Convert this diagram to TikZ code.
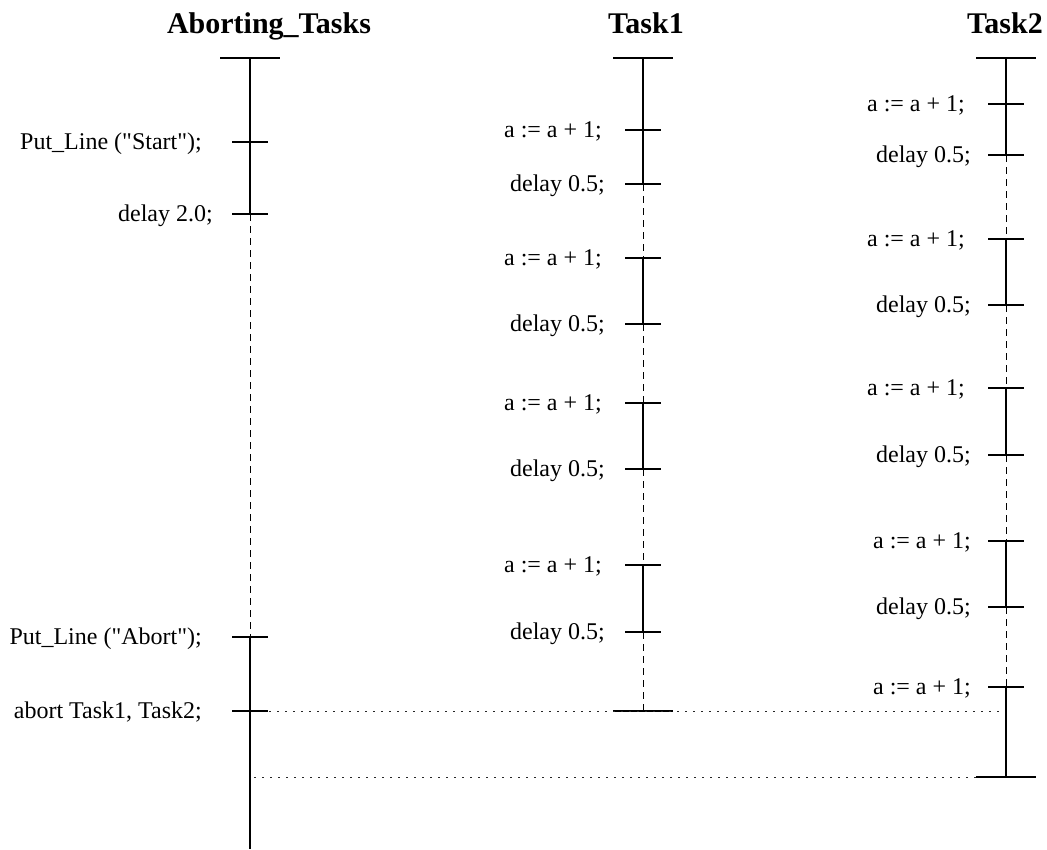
\documentclass[tikz,border=0pt]{standalone}
\usepackage{fontspec}
\setmainfont{Liberation Serif}
\begin{document}
\begin{tikzpicture}[x=1pt,y=-1pt,
  life/.style={line width=1.6pt},
  idle/.style={line width=0.8pt, dash pattern=on 7pt off 5pt},
  tickmark/.style={line width=1.1pt},
  endbar/.style={line width=1.3pt},
  msg/.style={line width=1pt, dash pattern=on 1.6pt off 6.4pt, black!85},
  lbl/.style={anchor=base east, font=\fontsize{24}{28}\selectfont, inner sep=0pt, yshift=-7pt},
  title/.style={anchor=base, font=\fontsize{30}{34}\selectfont\bfseries, inner sep=0pt}]
\useasboundingbox (0,0) rectangle (1047,849);

% task titles
\node[title] (tA) at (269,33) {Aborting\_Tasks};
\node[title] (t1) at (646,33) {Task1};
\node[title] (t2) at (1005,33) {Task2};

% ---- Aborting_Tasks lifeline ----
\coordinate (a0) at (250,58);
\coordinate (a1) at (250,142);
\coordinate (a2) at (250,214);
\coordinate (a3) at (250,637);
\coordinate (a4) at (250,711);
\coordinate (a5) at (250,777);
\coordinate (aend) at (250,849);
\draw[endbar] ([xshift=-30pt]a0) -- ([xshift=30pt]a0);
\draw[life] (a0) -- (a2);
\draw[idle] (a2) -- (a3);
\draw[life] (a3) -- (aend);
\foreach \c in {a1,a2,a3,a4}
  \draw[tickmark] ([xshift=-18pt]\c) -- ([xshift=18pt]\c);
\node[lbl] (la1) at (202,142) {Put\_Line (\textquotedbl Start\textquotedbl);};
\node[lbl] (la2) at (213,214) {delay 2.0;};
\node[lbl] (la3) at (202,637) {Put\_Line (\textquotedbl Abort\textquotedbl);};
\node[lbl] (la4) at (202,711) {abort Task1, Task2;};

% ---- Task1 lifeline ----
\coordinate (b0) at (643,58);
\foreach \n/\y in {1/130,2/184,3/258,4/324,5/403,6/469,7/565,8/632}
  \coordinate (b\n) at (643,\y);
\coordinate (bend) at (643,711);
\draw[endbar] ([xshift=-30pt]b0) -- ([xshift=30pt]b0);
\draw[life] (b0) -- (b2);
\draw[idle] (b2) -- (b3);
\draw[life] (b3) -- (b4);
\draw[idle] (b4) -- (b5);
\draw[life] (b5) -- (b6);
\draw[idle] (b6) -- (b7);
\draw[life] (b7) -- (b8);
\draw[idle] (b8) -- (bend);
\foreach \n in {1,...,8}
  \draw[tickmark] ([xshift=-18pt]b\n) -- ([xshift=18pt]b\n);
\foreach \n/\y in {1/130,3/258,5/403,7/565}
  \node[lbl] (lb\n) at (602,\y) {a := a + 1;};
\foreach \n/\y in {2/184,4/324,6/469,8/632}
  \node[lbl] (lb\n) at (605,\y) {delay 0.5;};

% ---- Task2 lifeline ----
\coordinate (c0) at (1006,58);
\foreach \n/\y in {1/104,2/155,3/239,4/305,5/388,6/455,7/541,8/607,9/687}
  \coordinate (c\n) at (1006,\y);
\coordinate (cend) at (1006,777);
\draw[endbar] ([xshift=-30pt]c0) -- ([xshift=30pt]c0);
\draw[life] (c0) -- (c2);
\draw[idle] (c2) -- (c3);
\draw[life] (c3) -- (c4);
\draw[idle] (c4) -- (c5);
\draw[life] (c5) -- (c6);
\draw[idle] (c6) -- (c7);
\draw[life] (c7) -- (c8);
\draw[idle] (c8) -- (c9);
\draw[life] (c9) -- (cend);
\foreach \n in {1,...,9}
  \draw[tickmark] ([xshift=-18pt]c\n) -- ([xshift=18pt]c\n);
\foreach \n/\y/\x in {1/104/965,3/239/965,5/388/965,7/541/971,9/687/971}
  \node[lbl] (lc\n) at (\x,\y) {a := a + 1;};
\foreach \n/\y in {2/155,4/305,6/455,8/607}
  \node[lbl] (lc\n) at (971,\y) {delay 0.5;};

% ---- termination bars and abort signals ----
\draw[endbar] ([xshift=-30pt]bend) -- ([xshift=30pt]bend);
\draw[endbar] ([xshift=-30pt]cend) -- ([xshift=30pt]cend);
\coordinate (c711) at (1003,711);
\draw[msg] ([xshift=19pt]a4) -- (c711);
\draw[msg] ([xshift=4pt]a5) -- ([xshift=-30pt]cend);
\end{tikzpicture}
\end{document}
